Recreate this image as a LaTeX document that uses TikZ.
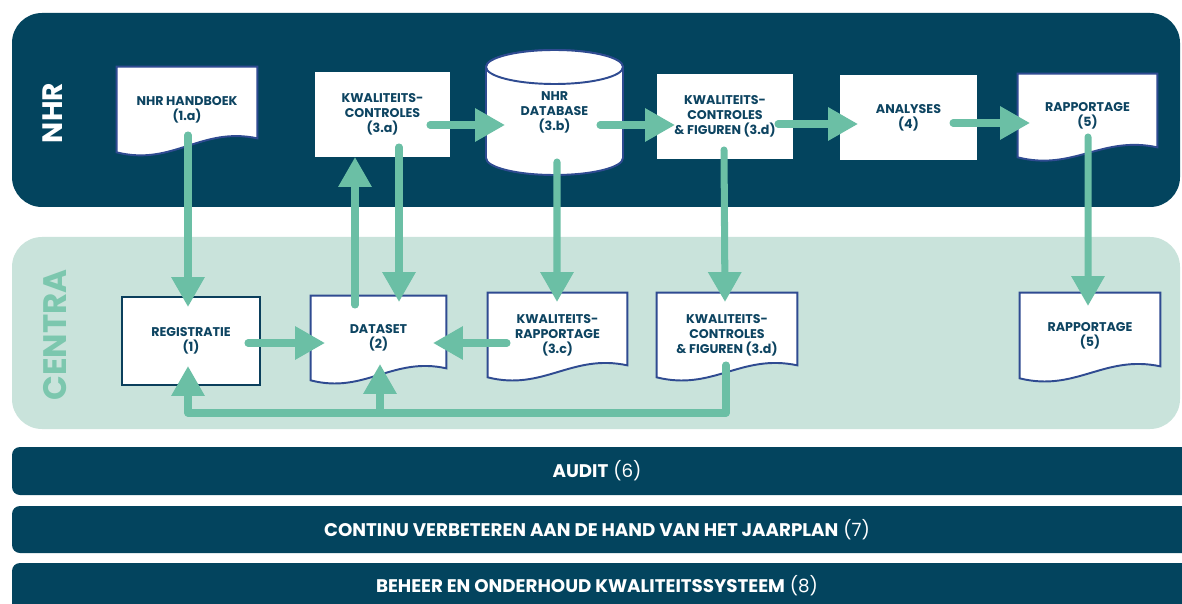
\documentclass[tikz,border=0pt]{standalone}
\usepackage{fontspec}
\setmainfont{Poppins}
\usetikzlibrary{arrows.meta,calc}

\definecolor{nhrc}{HTML}{03445E}
\definecolor{centrac}{HTML}{C9E3DB}
\definecolor{arrowc}{HTML}{6BBFA5}
\definecolor{textc}{HTML}{0D4461}
\definecolor{docc}{HTML}{2F4B91}
\definecolor{regc}{HTML}{0B3F5C}
\definecolor{labelc}{HTML}{7CC7AE}

\pgfdeclarelayer{panel}
\pgfdeclarelayer{shape}
\pgfsetlayers{panel,shape,main}

\tikzset{
  box/.style={inner sep=0pt, align=center, text=textc,
    font=\bfseries\fontsize{7.2}{8.6}\selectfont},
  rectbox/.style={box, fill=white},
  docline/.style={draw=docc, line width=1.1pt, fill=white},
  flow/.style={draw=arrowc, line width=4pt, line cap=round, line join=round,
    -{Triangle[length=17pt,width=18pt]}},
  bar/.style={fill=nhrc, rounded corners=0.16cm},
  bartext/.style={text=white, font=\fontsize{10.4}{12}\selectfont},
}

% document shape with a wavy bottom, #2 = rise on the right side
\newcommand{\docshape}[2]{%
  \draw[docline] (#1.north west) -- (#1.north east) -- ($(#1.south east)+(0,-#2)$)
    .. controls ($(#1.south)+(14,-#2-12)$) and ($(#1.south)+(-14,14)$) .. (#1.south west) -- cycle;}

\begin{document}
\begin{tikzpicture}[x=0.02cm,y=-0.02cm]
\useasboundingbox (0,0) rectangle (1182,604);

% panels
\begin{pgfonlayer}{panel}
\fill[nhrc, rounded corners=0.6cm] (12,13) rectangle (1180,207);
\fill[centrac, rounded corners=0.6cm] (12,237) rectangle (1180,429);
\end{pgfonlayer}
\node[rotate=90, text=white, font=\bfseries\fontsize{16}{16}\selectfont] (nhr) at (53,113) {NHR};
\node[rotate=90, text=labelc, font=\bfseries\fontsize{18.5}{18.5}\selectfont] (centra) at (55,335) {CENTRA};

% NHR row
\node[box, minimum width=2.8cm, minimum height=1.7cm] (hb) at (187,109.5) {NHR HANDBOEK\\(1.a)};
\node[rectbox, minimum width=2.7cm, minimum height=1.7cm] (kc) at (382.5,114.5) {KWALITEITS-\\CONTROLES\\(3.a)};
\node[box, minimum width=2.74cm, minimum height=2.5cm] (db) at (554.5,112.5) {NHR\\DATABASE\\(3.b)};
\node[rectbox, minimum width=2.72cm, minimum height=1.7cm] (kf) at (725,116.5) {KWALITEITS-\\CONTROLES\\\&~FIGUREN (3.d)};
\node[rectbox, minimum width=2.74cm, minimum height=1.7cm] (an) at (908.5,117.5) {ANALYSES\\(4)};
\node[box, minimum width=2.78cm, minimum height=1.66cm] (rap) at (1087.5,115.5) {RAPPORTAGE\\(5)};

% CENTRA row
\node[rectbox, draw=regc, line width=1.5pt, minimum width=2.76cm, minimum height=1.76cm] (reg) at (191,341) {REGISTRATIE\\(1)};
\node[box, minimum width=2.7cm, minimum height=1.68cm] (ds) at (378.5,338) {DATASET\\(2)};
\node[box, minimum width=2.78cm, minimum height=1.68cm] (kr) at (557.5,335) {KWALITEITS-\\RAPPORTAGE\\(3.c)};
\node[box, minimum width=2.8cm, minimum height=1.68cm] (kfc) at (727,335) {KWALITEITS-\\CONTROLES\\\&~FIGUREN (3.d)};
\node[box, minimum width=2.8cm, minimum height=1.7cm] (rapc) at (1090,335.5) {RAPPORTAGE\\(5)};

\begin{pgfonlayer}{shape}
\docshape{hb}{14}
\docshape{rap}{10}
\docshape{ds}{12}
\docshape{kr}{12}
\docshape{kfc}{12}
\docshape{rapc}{12}
\draw[docline] (486,67) -- (486,158) arc[start angle=180, end angle=360, x radius=1.37cm, y radius=0.34cm]
  -- (623,67) arc[start angle=0, end angle=180, x radius=1.37cm, y radius=0.34cm] -- cycle;
\draw[docline] (554.5,67) ellipse [x radius=1.37cm, y radius=0.34cm];
\end{pgfonlayer}

% arrows
\draw[flow] ($(hb.center)+(1,25.5)$) -- ($(reg.center)+(-3,-34)$);
\draw[flow] ($(reg.center)+(57,2)$) -- ($(ds.center)+(-53.5,5)$);
\draw[flow] ($(kr.center)+(-50.5,8)$) -- ($(ds.center)+(54.5,5)$);
\draw[flow] ($(ds.center)+(-23.5,-33)$) -- ($(kc.center)+(-27.5,42.5)$);
\draw[flow] ($(kc.center)+(16.5,32.5)$) -- ($(ds.center)+(20.5,-36)$);
\draw[flow] ($(kc.center)+(47.5,10.5)$) -- ($(db.center)+(-49.5,12.5)$);
\draw[flow] ($(db.center)+(45.5,12.5)$) -- ($(kf.center)+(-50,8.5)$);
\draw[flow] ($(kf.center)+(53,7.5)$) -- ($(an.center)+(-50.5,6.5)$);
\draw[flow] ($(an.center)+(44.5,5.5)$) -- ($(rap.center)+(-57.5,7.5)$);
\draw[flow] ($(db.center)+(2.5,49.5)$) -- ($(kr.center)+(-0.5,-33)$);
\draw[flow] ($(kf.center)+(-1,33.5)$) -- ($(kfc.center)+(-2,-33)$);
\draw[flow] ($(rap.center)+(0.5,21.5)$) -- ($(rapc.center)+(-2,-29.5)$);
\draw[flow] ($(kfc.center)+(-1,30)$) |- ($(reg.center)+(-3,72)$) -- ($(reg.center)+(-3,25)$);
\draw[flow] ($(ds.center)+(1.5,75)$) -- ($(ds.center)+(1.5,26)$);

% bars
\fill[bar] (12,447) rectangle (1200,495);
\fill[bar] (12,506) rectangle (1200,553);
\fill[bar] (12,563) rectangle (1200,620);
\node[bartext] (audit) at (597,471) {\textbf{AUDIT} (6)};
\node[bartext] (plan) at (597,529.5) {\textbf{CONTINU VERBETEREN AAN DE HAND VAN HET JAARPLAN} (7)};
\node[bartext] (beheer) at (597,586) {\textbf{BEHEER EN ONDERHOUD KWALITEITSSYSTEEM} (8)};
\end{tikzpicture}
\end{document}
